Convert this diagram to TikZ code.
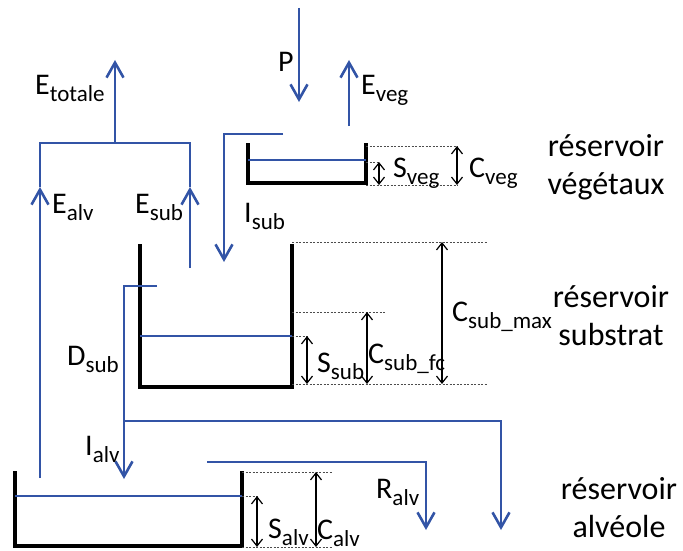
\documentclass[tikz,border=0pt]{standalone}
\usepackage{fontspec}
\setmainfont{Carlito}
\usetikzlibrary{arrows.meta}
\definecolor{fluxblue}{RGB}{50,84,166}
\tikzstyle{flux}=[draw=fluxblue,line width=2.6pt]
\tikzstyle{fluxarrow}=[flux,-{Straight Barb[length=15pt,width=17pt]}]
\tikzstyle{wall}=[draw=black,line width=4.5pt]
\tikzstyle{water}=[draw=fluxblue,line width=1.5pt]
\tikzstyle{level}=[draw=black!70,line width=0.8pt,dash pattern=on 2pt off 1.5pt]
\tikzstyle{gauge}=[draw=black,line width=1.2pt,{Straight Barb[length=7pt,width=11pt]}-{Straight Barb[length=7pt,width=11pt]}]
\tikzstyle{lab}=[inner sep=0pt,anchor=base west]
\tikzstyle{tank}=[inner sep=0pt,align=center,font=\fontsize{32}{38}\selectfont]
\newcommand{\vlab}[2]{{\fontsize{30}{32}\selectfont #1}\raisebox{-7pt}{\fontsize{23}{24}\selectfont #2}}

\begin{document}
\begin{tikzpicture}[x=1pt,y=-1pt]
  \useasboundingbox (0,0) rectangle (683,551);

  % reservoir vegetaux
  \coordinate (vegL) at (248,143);  \coordinate (vegBL) at (248,183);
  \coordinate (vegBR) at (366,183); \coordinate (vegR) at (366,143);
  \draw[wall] (vegL) -- (vegBL) -- (vegBR) -- (vegR);
  \coordinate (vegWL) at (248,160); \coordinate (vegWR) at (366,160);
  \draw[water] (vegWL) -- (vegWR);
  \coordinate (vegTop) at (366,146);  \coordinate (vegTopE) at (458,146);
  \coordinate (vegLvl) at (366,162);  \coordinate (vegLvlE) at (380,162);
  \coordinate (vegBot) at (366,185);  \coordinate (vegBotE) at (458,185);
  \draw[level] (vegTop) -- (vegTopE);
  \draw[level] (vegLvl) -- (vegLvlE);
  \draw[level] (vegBot) -- (vegBotE);
  \coordinate (SvegT) at (379,162); \coordinate (SvegB) at (379,185);
  \coordinate (CvegT) at (457,146); \coordinate (CvegB) at (457,185);
  \draw[gauge] (SvegT) -- (SvegB);
  \draw[gauge] (CvegT) -- (CvegB);

  % reservoir substrat
  \coordinate (subL) at (140,244);  \coordinate (subBL) at (140,387);
  \coordinate (subBR) at (292,387); \coordinate (subR) at (292,244);
  \draw[wall] (subL) -- (subBL) -- (subBR) -- (subR);
  \coordinate (subWL) at (140,336); \coordinate (subWR) at (292,336);
  \draw[water] (subWL) -- (subWR);
  \coordinate (subTop) at (292,242); \coordinate (subTopE) at (487,242);
  \coordinate (subFc) at (292,312);  \coordinate (subFcE) at (385,312);
  \coordinate (subLvl) at (292,336); \coordinate (subLvlE) at (308,336);
  \coordinate (subBot) at (292,384); \coordinate (subBotE) at (487,384);
  \draw[level] (subTop) -- (subTopE);
  \draw[level] (subFc) -- (subFcE);
  \draw[level] (subLvl) -- (subLvlE);
  \draw[level] (subBot) -- (subBotE);
  \coordinate (SsubT) at (307,336);  \coordinate (SsubB) at (307,384);
  \coordinate (CfcT) at (367,312);   \coordinate (CfcB) at (367,384);
  \coordinate (CmaxT) at (442,242);  \coordinate (CmaxB) at (442,384);
  \draw[gauge] (SsubT) -- (SsubB);
  \draw[gauge] (CfcT) -- (CfcB);
  \draw[gauge] (CmaxT) -- (CmaxB);

  % reservoir alveole
  \coordinate (alvL) at (15,471);   \coordinate (alvBL) at (15,546);
  \coordinate (alvBR) at (242,546); \coordinate (alvR) at (242,471);
  \draw[wall] (alvL) -- (alvBL) -- (alvBR) -- (alvR);
  \coordinate (alvWL) at (15,496);  \coordinate (alvWR) at (242,496);
  \draw[water] (alvWL) -- (alvWR);
  \coordinate (alvTop) at (242,472); \coordinate (alvTopE) at (333,472);
  \coordinate (alvLvl) at (242,496); \coordinate (alvLvlE) at (258,496);
  \coordinate (alvBot) at (242,547); \coordinate (alvBotE) at (333,547);
  \draw[level] (alvTop) -- (alvTopE);
  \draw[level] (alvLvl) -- (alvLvlE);
  \draw[level] (alvBot) -- (alvBotE);
  \coordinate (SalvT) at (257,496); \coordinate (SalvB) at (257,547);
  \coordinate (CalvT) at (316,472); \coordinate (CalvB) at (316,547);
  \draw[gauge] (SalvT) -- (SalvB);
  \draw[gauge] (CalvT) -- (CalvB);

  % flux
  \coordinate (Ptop) at (299,8);      \coordinate (Ptip) at (299,102);
  \coordinate (vegOut) at (349,126);  \coordinate (vegTip) at (349,60);
  \coordinate (vegSpill) at (283,134); \coordinate (isubC) at (224,134);
  \coordinate (isubTip) at (224,262);
  \coordinate (totBase) at (115,143); \coordinate (totTip) at (115,60);
  \coordinate (joinL) at (40,143);    \coordinate (joinR) at (190,143);
  \coordinate (alvOut) at (40,478);   \coordinate (alvTip) at (40,187);
  \coordinate (subOut) at (190,268);  \coordinate (subTip) at (190,187);
  \coordinate (subSpill) at (157,286); \coordinate (dsubC) at (124,286);
  \coordinate (ialvTip) at (124,479);
  \coordinate (brA) at (124,421);     \coordinate (brB) at (501,421);
  \coordinate (brTip) at (501,530);
  \coordinate (alvSpill) at (207,462); \coordinate (ralvC) at (426,462);
  \coordinate (ralvTip) at (426,530);

  \draw[fluxarrow] (Ptop) -- (Ptip);
  \draw[fluxarrow] (vegOut) -- (vegTip);
  \draw[fluxarrow] (vegSpill) -- (isubC) -- (isubTip);
  \draw[fluxarrow] (totBase) -- (totTip);
  \draw[fluxarrow] (alvOut) -- (alvTip);
  \draw[fluxarrow] (subOut) -- (subTip);
  \draw[flux] (alvTip) -- (joinL) -- (joinR) -- (subTip);
  \draw[fluxarrow] (subSpill) -- (dsubC) -- (ialvTip);
  \draw[fluxarrow] (brA) -- (brB) -- (brTip);
  \draw[fluxarrow] (alvSpill) -- (ralvC) -- (ralvTip);

  % labels
  \node[lab] (lP) at (278,71) {\vlab{P}{}};
  \node[lab] (lEtot) at (35,95) {\vlab{E}{totale}};
  \node[lab] (lEveg) at (361,95) {\vlab{E}{veg}};
  \node[lab] (lEalv) at (52,213) {\vlab{E}{alv}};
  \node[lab] (lEsub) at (135,213) {\vlab{E}{sub}};
  \node[lab] (lIsub) at (244,222) {\vlab{I}{sub}};
  \node[lab] (lSveg) at (393,177) {\vlab{S}{veg}};
  \node[lab] (lCveg) at (469,177) {\vlab{C}{veg}};
  \node[lab] (lDsub) at (67,365) {\vlab{D}{sub}};
  \node[lab] (lSsub) at (317,372) {\vlab{S}{sub}};
  \node[lab] (lCfc) at (368,363) {\vlab{C}{sub\_fc}};
  \node[lab] (lCmax) at (452,321) {\vlab{C}{sub\_max}};
  \node[lab] (lIalv) at (85,455) {\vlab{I}{alv}};
  \node[lab] (lRalv) at (376,498) {\vlab{R}{alv}};
  \node[lab] (lSalv) at (268,538) {\vlab{S}{alv}};
  \node[lab] (lCalv) at (317,539) {\vlab{C}{alv}};

  \node[tank] (tVeg) at (606,167) {réservoir\\végétaux};
  \node[tank] (tSub) at (611,316) {réservoir\\substrat};
  \node[tank] (tAlv) at (619,508) {réservoir\\alvéole};
\end{tikzpicture}
\end{document}
